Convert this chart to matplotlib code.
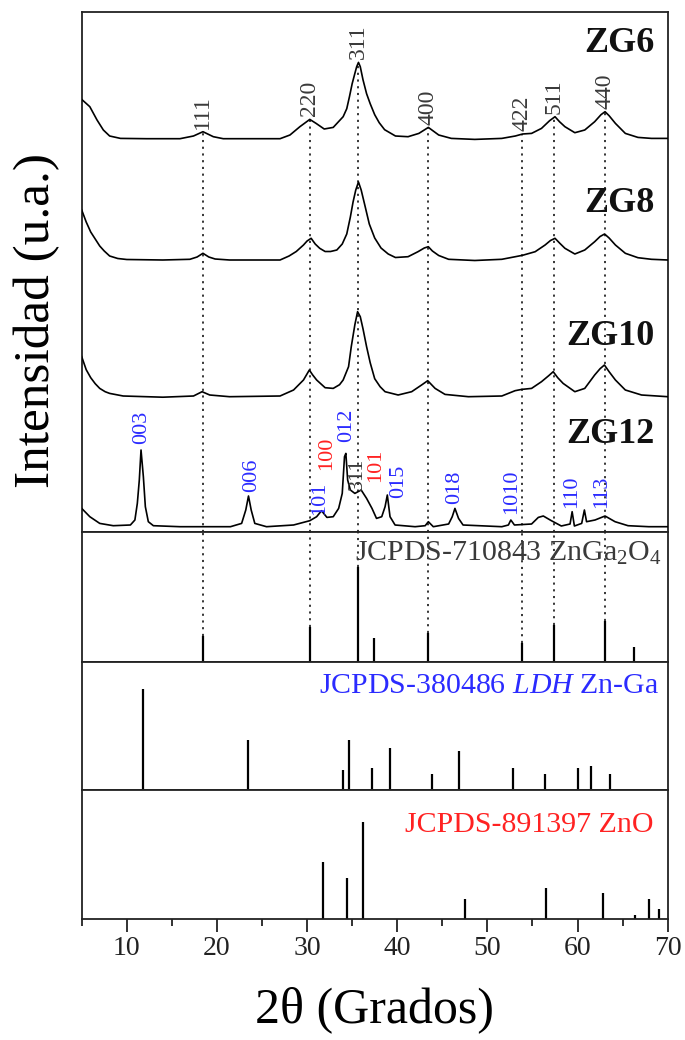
import matplotlib
matplotlib.use('Agg')
import matplotlib.pyplot as plt
import numpy as np

plt.rcParams['font.family'] = ['Liberation Serif', 'DejaVu Serif']
plt.rcParams['mathtext.fontset'] = 'custom'
plt.rcParams['mathtext.rm'] = 'Liberation Serif'
plt.rcParams['mathtext.it'] = 'Liberation Serif:italic'
plt.rcParams['mathtext.bf'] = 'Liberation Serif:bold'

# ---------------- data ----------------
sample_names = ['ZG6', 'ZG8', 'ZG10', 'ZG12']
sample_offsets = [392.8, 271.5, 134.8, 4.8]

zg6_x = [5.0, 5.9, 6.7, 7.4, 8.1, 9.3, 12.2, 15.9, 17.4, 18.45, 19.6, 20.7, 23.3, 27.0, 28.1, 29.2,
         30.3, 31.0, 31.9, 32.9, 34.0, 34.4, 34.7, 35.0, 35.3, 35.5, 35.7, 35.9, 36.2, 36.6, 37.0,
         37.5, 38.0, 38.6, 39.8, 41.2, 42.4, 43.45, 44.6, 46.0, 48.6, 51.6, 53.1, 53.9, 54.9, 56.0,
         56.9, 57.5, 58.0, 58.6, 59.7, 60.8, 61.9, 62.6, 63.05, 63.5, 64.2, 65.3, 66.7, 68.2, 70.0]
zg6_y = [39.3, 32.0, 18.7, 8.7, 2.7, 0.3, 0.0, 0.0, 2.7, 7.0, 2.0, 0.0, 0.0, 0.0, 3.7, 12.0,
         19.3, 15.3, 9.7, 11.3, 22.0, 30.0, 42.0, 55.0, 65.3, 72.0, 76.3, 72.0, 59.0, 45.0, 35.0,
         24.0, 16.0, 9.0, 2.7, 2.0, 5.3, 11.3, 3.7, 0.3, -0.7, 0.3, 2.7, 4.7, 5.3, 10.3,
         18.0, 22.0, 17.0, 12.0, 6.0, 8.7, 17.0, 24.0, 27.0, 23.0, 15.3, 5.3, 1.3, 0.3, 0.3]

zg8_x = [5.0, 5.5, 6.0, 6.5, 7.0, 7.5, 8.1, 9.0, 10.0, 14.0, 17.0, 17.8, 18.45, 19.1, 19.8, 21.4,
         27.0, 28.0, 28.8, 29.6, 30.0, 30.45, 30.9, 31.4, 32.0, 32.6, 33.3, 33.9, 34.4, 34.8, 35.1,
         35.4, 35.7, 36.0, 36.4, 36.9, 37.5, 38.2, 39.0, 39.8, 41.2, 42.3, 43.0, 43.45, 43.9, 44.6,
         45.7, 48.6, 51.6, 53.1, 53.9, 55.3, 56.4, 57.0, 57.5, 58.0, 58.6, 59.7, 60.8, 61.9, 62.5,
         63.0, 63.5, 64.2, 65.3, 66.7, 68.2, 70.0]
zg8_y = [50.0, 38.0, 28.0, 21.0, 14.0, 9.0, 4.0, 1.5, 0.5, 0.0, 0.7, 3.0, 6.7, 3.0, 1.0, 0.0,
         0.0, 4.0, 8.5, 15.0, 19.0, 21.7, 16.0, 11.7, 8.5, 8.5, 10.0, 16.0, 26.0, 43.0, 58.0,
         70.0, 78.0, 70.0, 55.0, 36.0, 22.0, 12.0, 6.0, 2.5, 3.3, 8.3, 12.0, 13.3, 9.0, 4.5,
         0.7, -0.5, 0.7, 3.3, 4.7, 8.3, 15.0, 19.5, 21.7, 17.0, 11.7, 6.0, 10.0, 18.3, 23.5,
         26.0, 22.0, 15.0, 6.7, 2.3, 0.7, 0.0]

zg10_x = [5.0, 5.5, 6.0, 6.5, 7.0, 7.6, 8.1, 9.6, 14.0, 17.4, 18.35, 19.2, 21.4, 27.0, 28.5, 29.6,
          30.25, 30.6, 31.06, 32.0, 32.9, 33.6, 34.0, 34.6, 34.9, 35.3, 35.6, 35.9, 36.2, 36.6,
          37.0, 37.5, 38.1, 38.65, 40.1, 41.6, 42.7, 43.38, 44.2, 45.3, 47.9, 51.6, 53.07, 53.8,
          54.9, 56.0, 56.8, 57.3, 57.8, 58.4, 59.7, 60.8, 61.9, 62.5, 62.98, 63.5, 64.2, 65.3,
          67.1, 70.0]
zg10_y = [40.0, 27.0, 19.0, 13.0, 8.3, 5.0, 3.3, 0.7, -0.5, 0.7, 5.0, 1.7, 0.0, 0.7, 6.7, 16.7,
          26.7, 22.0, 16.7, 9.0, 8.3, 12.0, 16.7, 30.0, 50.0, 72.0, 85.0, 80.0, 68.0, 50.0,
          34.0, 18.0, 10.0, 5.0, 1.7, 5.0, 11.7, 16.0, 8.3, 2.3, 0.0, 0.7, 6.0, 7.3,
          8.3, 15.0, 21.0, 25.0, 19.0, 13.3, 5.0, 8.3, 21.7, 28.0, 31.7, 25.0, 16.7, 6.7,
          1.7, 0.0]

zg12_x = [5.0, 5.9, 7.0, 8.5, 10.4, 10.9, 11.17, 11.39, 11.58, 11.84, 12.06, 12.39, 12.95, 15.9,
          21.5, 22.74, 23.2, 23.5, 23.8, 24.2, 25.5, 28.5, 30.3, 31.06, 31.6, 32.2, 32.9, 33.5,
          33.9, 34.15, 34.3, 34.5, 34.8, 35.3, 36.0, 36.6, 37.2, 37.7, 38.28, 38.65, 38.9, 39.2,
          39.76, 41.98, 43.1, 43.45, 44.0, 45.7, 46.1, 46.4, 46.8, 47.3, 51.6, 52.33, 52.6, 53.0,
          54.9, 55.65, 56.2, 57.1, 58.2, 59.17, 59.4, 59.65, 60.46, 60.76, 61.0, 61.94, 63.05,
          64.16, 65.6, 67.9, 70.0]
zg12_y = [18.3, 10.0, 3.3, 1.0, 1.7, 6.7, 23.3, 46.7, 76.7, 50.0, 20.0, 5.0, 1.0, 0.0,
          0.0, 3.3, 16.7, 30.7, 16.7, 3.3, 0.0, 1.7, 6.0, 10.0, 16.0, 9.3, 10.0, 18.3,
          33.3, 70.0, 73.3, 46.7, 36.7, 33.3, 36.7, 28.3, 18.3, 8.3, 10.0, 20.0, 31.7, 10.0,
          1.7, 0.0, 1.0, 5.0, 0.0, 2.7, 10.0, 18.3, 8.3, 1.7, 0.0, 1.7, 6.7, 1.7,
          2.7, 9.3, 10.7, 6.0, 0.7, 2.7, 15.0, 0.7, 3.3, 16.7, 5.0, 6.7, 10.7,
          5.0, 1.0, 0.0, 0.0]

# ZnGa2O4 (spinel) peak indices for the ZG6 curve
spinel_hkl = ['111', '220', '311', '400', '422', '511', '440']
spinel_hkl_x = [18.4, 30.3, 35.7, 43.4, 53.8, 57.4, 63.0]

# ZG12 reflections: labels, colours (blue = LDH, red = ZnO, grey = spinel)
zg12_hkl = ['003', '006', '101', '100', '012', '311', '101', '015', '018', '1010', '110', '113']
zg12_hkl_phase = ['LDH', 'LDH', 'LDH', 'ZnO', 'LDH', 'ZnGa2O4', 'ZnO', 'LDH', 'LDH', 'LDH', 'LDH', 'LDH']
zg12_hkl_x = [11.6, 23.8, 31.4, 32.2, 34.4, 35.55, 37.55, 40.2, 46.4, 52.7, 59.35, 62.7]
zg12_hkl_y = [88, 40, 16.5, 61.5, 90, 41.5, 50, 33, 28, 18, 23, 23]

# reference patterns (stick positions and relative intensities)
zga_pos = [18.4, 30.3, 35.7, 37.4, 43.4, 53.8, 57.4, 63.1, 66.3]
zga_int = [27.7, 36.5, 100, 24.8, 30.1, 19.5, 38.7, 43.3, 16.0]

ldh_pos = [11.75, 23.5, 33.95, 34.6, 37.25, 39.2, 43.9, 46.8, 52.8, 56.35, 60.1, 61.45, 63.65]
ldh_int = [100, 50, 20, 50, 22, 42, 16, 38.5, 22, 16, 22, 24, 16]

zno_pos = [31.75, 34.4, 36.2, 47.5, 56.55, 62.85, 66.35, 67.9, 69.05]
zno_int = [58.5, 42, 100, 21, 31.5, 27.3, 4.5, 21, 10.7]

x_ticks = [10, 20, 30, 40, 50, 60, 70]

# ---------------- figure ----------------
W, H = 685, 1040
fig = plt.figure(figsize=(W / 100, H / 100), dpi=100)
L, R = 81.7, 667.7


def rect(top, bot):
    return [L / W, 1 - bot / H, (R - L) / W, (bot - top) / H]


ax0 = fig.add_axes(rect(12, 531.5))
ax1 = fig.add_axes(rect(531.5, 662))
ax2 = fig.add_axes(rect(662, 790))
ax3 = fig.add_axes(rect(790, 919))
axes = [ax0, ax1, ax2, ax3]

for ax in axes:
    ax.set_xlim(5, 70)
    for s in ax.spines.values():
        s.set_linewidth(1.3)
        s.set_color('#222222')
    ax.set_yticks([])
    ax.tick_params(axis='x', bottom=False, labelbottom=False, top=False)

BLUE = '#2b2bff'
RED = '#ff2222'
GREY = '#3a3a3a'
phase_color = {'LDH': BLUE, 'ZnO': RED, 'ZnGa2O4': GREY}

# top panel: patterns
ax0.set_ylim(0, 519.5)
curves = [(zg6_x, zg6_y), (zg8_x, zg8_y), (zg10_x, zg10_y), (zg12_x, zg12_y)]
for (cx, cy), off, name in zip(curves, sample_offsets, sample_names):
    ax0.plot(cx, np.asarray(cy) + off, color='black', lw=1.2, zorder=3)

name_y = [488, 328, 195, 97]
for name, yy in zip(sample_names, name_y):
    ax0.text(68.5, yy, name, fontsize=26, fontweight='bold',
             ha='right', va='center', color='#111111')

dot_style = dict(color='black', lw=1.1, linestyle=(0, (1.4, 3.0)), zorder=2)
for lab, px in zip(spinel_hkl, spinel_hkl_x):
    ytop = np.interp(px, zg6_x, zg6_y) + sample_offsets[0]
    ax0.vlines(px, 0, ytop, **dot_style)
    ax0.text(px, ytop + 3, lab, rotation=90, ha='center', va='bottom', fontsize=17, color=GREY)

for lab, ph, px, py in zip(zg12_hkl, zg12_hkl_phase, zg12_hkl_x, zg12_hkl_y):
    ax0.text(px, py, lab, rotation=90, ha='center', va='bottom', fontsize=16,
             color=phase_color[ph], zorder=4)

# reference panels
ax1.set_ylim(0, 137)
ax1.vlines(zga_pos, 0, zga_int, color='black', lw=1.6)
for px in spinel_hkl_x:
    h = np.interp(px, zga_pos, zga_int)
    ax1.vlines(px, h, 137, **dot_style)
ax1.text(0.99, 0.83, r'JCPDS-710843 ZnGa$_2$O$_4$', transform=ax1.transAxes, ha='right',
         va='center', fontsize=21.5, color=GREY)

ax2.set_ylim(0, 127)
ax2.vlines(ldh_pos, 0, ldh_int, color='black', lw=1.6)
ax2.text(0.985, 0.81, r'JCPDS-380486 $\mathit{LDH}$ Zn-Ga', transform=ax2.transAxes, ha='right',
         va='center', fontsize=21.5, color=BLUE)

ax3.set_ylim(0, 133)
ax3.vlines(zno_pos, 0, zno_int, color='black', lw=1.6)
ax3.text(0.975, 0.73, 'JCPDS-891397 ZnO', transform=ax3.transAxes, ha='right',
         va='center', fontsize=21.5, color=RED)

ax3.set_xticks(x_ticks)
ax3.set_xticks(np.arange(5, 71, 10), minor=True)
ax3.tick_params(axis='x', which='major', bottom=True, labelbottom=True, direction='out',
                length=9, width=1.3, labelsize=20, pad=3, colors='#222222')
ax3.tick_params(axis='x', which='minor', bottom=True, direction='out', length=5, width=1.3,
                colors='#222222')

fig.text(0.5 * (L + R) / W, 1 - 1010 / H, '2θ (Grados)', ha='center', va='center', fontsize=36)
fig.text(37 / W, 1 - 320 / H, 'Intensidad (u.a.)', rotation=90, ha='center', va='center',
         fontsize=37)

fig.savefig('out.png', dpi=100)
